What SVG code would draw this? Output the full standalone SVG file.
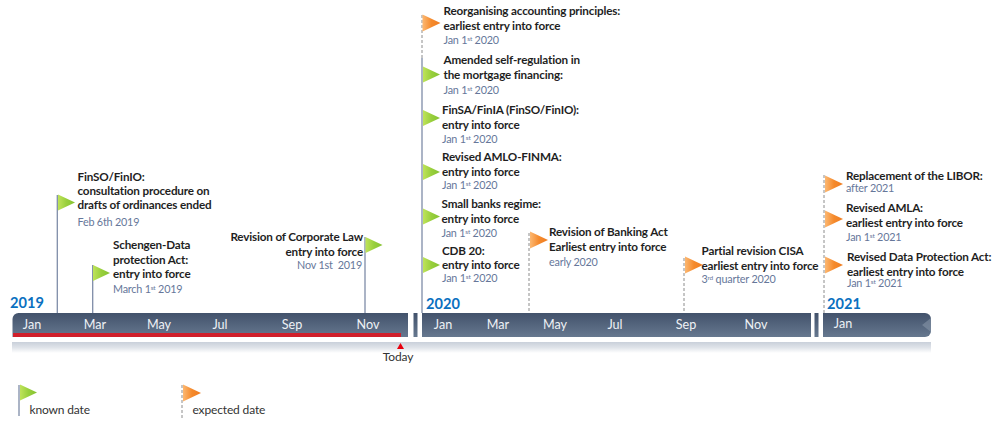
<svg xmlns="http://www.w3.org/2000/svg" width="1000" height="425" viewBox="0 0 1000 425">
<style>
text{font-family:"Lato","Carlito","Open Sans","Liberation Sans",sans-serif}
.t{font-size:11.7px;font-weight:700;fill:#1f1f1f;letter-spacing:-.17px}
.d{font-size:10.8px;fill:#66779a;letter-spacing:-.2px;white-space:pre}
.m{font-size:12.6px;fill:#eef1f5}
.y{font-size:14.6px;font-weight:700;fill:#0a70c0}
.l{font-size:12px;fill:#333;letter-spacing:-.15px}
.p{stroke:#7f8da8;stroke-width:1.3;fill:none}
.q{stroke:#8c8c8c;stroke-width:1;stroke-dasharray:3 2;fill:none}
.b{fill:url(#bar)}
</style>
<defs>
<linearGradient id="bar" x1="0" y1="0" x2="0" y2="1"><stop offset="0" stop-color="#42526b"/><stop offset="1" stop-color="#66788f"/></linearGradient>
<linearGradient id="ref" x1="0" y1="0" x2="0" y2="1"><stop offset="0" stop-color="#c9d0da"/><stop offset=".5" stop-color="#dfe3e9"/><stop offset="1" stop-color="#ffffff"/></linearGradient>
<linearGradient id="gf" x1="0" y1="0" x2="1" y2="0"><stop offset="0" stop-color="#bfe35a"/><stop offset=".5" stop-color="#98cf3c"/><stop offset="1" stop-color="#86c232"/></linearGradient>
<linearGradient id="of" x1="0" y1="0" x2="1" y2="0"><stop offset="0" stop-color="#fcb872"/><stop offset=".5" stop-color="#f58a2c"/><stop offset="1" stop-color="#ef7d22"/></linearGradient>
<polygon id="g" points="0,-8 17,0 0,8" fill="url(#gf)"/>
<polygon id="o" points="0,-8.500 18,0 0,8.500" fill="url(#of)"/>
</defs>
<g id="timeline">
<rect x="12" y="342" width="919" height="11" fill="url(#ref)"/>
<path class="b" d="M12.500 319a6 6 0 0 1 6-6H408V337H12.500Z"/>
<rect class="b" x="413.500" y="313" width="4" height="24"/>
<rect class="b" x="422" y="313" width="389" height="24"/>
<rect class="b" x="814.500" y="313" width="4" height="24"/>
<path class="b" d="M823 313H925a6 6 0 0 1 6 6V331a6 6 0 0 1-6 6H823Z"/>
<path d="M931 318V332L922 325Z" fill="#8b99ab" opacity=".55"/>
<rect x="13" y="333" width="388" height="4" fill="#d01f2b"/>
<polygon points="400.500,343 397,349 404,349" fill="#e8000e"/>
</g>
<g id="months">
<text class="m" x="32" y="329" text-anchor="middle">Jan</text><text class="m" x="95" y="329" text-anchor="middle">Mar</text><text class="m" x="159" y="329" text-anchor="middle">May</text><text class="m" x="220" y="329" text-anchor="middle">Jul</text><text class="m" x="292" y="329" text-anchor="middle">Sep</text><text class="m" x="368" y="329" text-anchor="middle">Nov</text>
<text class="m" x="443" y="329" text-anchor="middle">Jan</text><text class="m" x="498" y="329" text-anchor="middle">Mar</text><text class="m" x="555" y="329" text-anchor="middle">May</text><text class="m" x="615" y="329" text-anchor="middle">Jul</text><text class="m" x="686" y="329" text-anchor="middle">Sep</text><text class="m" x="756" y="329" text-anchor="middle">Nov</text>
<text class="m" x="843" y="328" text-anchor="middle">Jan</text>
</g>
<g id="years">
<text class="y" x="10" y="308">2019</text><text class="y" x="426" y="309">2020</text><text class="y" x="827" y="309">2021</text>
</g>
<text id="today" class="l" x="398" y="361" text-anchor="middle">Today</text>
<g id="connectors">
<path class="p" d="M57.300 195V313M92.700 265V313M365 237V313M422 58V313M19 385V416"/>
<path class="q" d="M422 15V58M529 233V313M684 258V313M824 175V313M182 385V420"/>
</g>
<g id="n1"><use href="#g" x="58" y="202.500"/><text class="t" x="77.500" y="181">FinSO/FinIO:</text><text class="t" x="77.500" y="195">consultation procedure on</text><text class="t" x="77.500" y="209">drafts of ordinances ended</text><text class="d" x="77.500" y="226">Feb 6th 2019</text></g>
<g id="n2"><use href="#g" x="93" y="273"/><text class="t" x="113" y="249">Schengen-Data</text><text class="t" x="113" y="264">protection Act:</text><text class="t" x="113" y="278">entry into force</text><text class="d" x="113" y="293">March 1<tspan font-size="6.500" dy="-3.500">st</tspan><tspan dy="3.500"> 2019</tspan></text></g>
<g id="n3"><use href="#g" x="365.500" y="245"/><text class="t" x="363" y="241" text-anchor="end">Revision of Corporate Law</text><text class="t" x="363" y="256" text-anchor="end">entry into force</text><text class="d" x="362" y="269" text-anchor="end">Nov 1st  2019</text></g>
<g id="n4"><use href="#o" x="422.500" y="23"/><text class="t" x="443.500" y="15">Reorganising accounting principles:</text><text class="t" x="443.500" y="30">earliest entry into force</text><text class="d" x="443.500" y="44">Jan 1<tspan font-size="6.500" dy="-3.500">st</tspan><tspan dy="3.500"> 2020</tspan></text></g>
<g id="n5"><use href="#g" x="423" y="74.500"/><text class="t" x="443.500" y="64">Amended self-regulation in</text><text class="t" x="443.500" y="79">the mortgage financing:</text><text class="d" x="443.500" y="94">Jan 1<tspan font-size="6.500" dy="-3.500">st</tspan><tspan dy="3.500"> 2020</tspan></text></g>
<g id="n6"><use href="#g" x="423" y="118"/><text class="t" x="442" y="114">FinSA/FinIA (FinSO/FinIO):</text><text class="t" x="442" y="129">entry into force</text><text class="d" x="442" y="143">Jan 1<tspan font-size="6.500" dy="-3.500">st</tspan><tspan dy="3.500"> 2020</tspan></text></g>
<g id="n7"><use href="#g" x="423" y="172"/><text class="t" x="442" y="161">Revised AMLO-FINMA:</text><text class="t" x="442" y="176">entry into force</text><text class="d" x="442" y="189">Jan 1<tspan font-size="6.500" dy="-3.500">st</tspan><tspan dy="3.500"> 2020</tspan></text></g>
<g id="n8"><use href="#g" x="423" y="216.500"/><text class="t" x="441.500" y="208">Small banks regime:</text><text class="t" x="441.500" y="223">entry into force</text><text class="d" x="441.500" y="237">Jan 1<tspan font-size="6.500" dy="-3.500">st</tspan><tspan dy="3.500"> 2020</tspan></text></g>
<g id="n9"><use href="#g" x="423" y="265"/><text class="t" x="442" y="255">CDB 20:</text><text class="t" x="442" y="269">entry into force</text><text class="d" x="442" y="282">Jan 1<tspan font-size="6.500" dy="-3.500">st</tspan><tspan dy="3.500"> 2020</tspan></text></g>
<g id="n10"><use href="#o" x="530" y="240"/><text class="t" x="549" y="236">Revision of Banking Act</text><text class="t" x="549" y="251">Earliest entry into force</text><text class="d" x="549" y="266">early 2020</text></g>
<g id="n11"><use href="#o" x="685" y="265"/><text class="t" x="701.500" y="255">Partial revision CISA</text><text class="t" x="701.500" y="270">earliest entry into force</text><text class="d" x="701.500" y="283">3<tspan font-size="6.500" dy="-3.500">rd</tspan><tspan dy="3.500"> quarter 2020</tspan></text></g>
<g id="n12"><use href="#o" x="825" y="184"/><text class="t" x="846" y="180">Replacement of the LIBOR:</text><text class="d" x="846" y="192">after 2021</text></g>
<g id="n13"><use href="#o" x="825" y="219"/><text class="t" x="846" y="212">Revised AMLA:</text><text class="t" x="846" y="227">earliest entry into force</text><text class="d" x="846" y="241">Jan 1<tspan font-size="6.500" dy="-3.500">st</tspan><tspan dy="3.500"> 2021</tspan></text></g>
<g id="n14"><use href="#o" x="825" y="265"/><text class="t" x="847" y="261">Revised Data Protection Act:</text><text class="t" x="847" y="276">earliest entry into force</text><text class="d" x="847" y="287">Jan 1<tspan font-size="6.500" dy="-3.500">st</tspan><tspan dy="3.500"> 2021</tspan></text></g>
<g id="legend-known"><use href="#g" x="20" y="392.500"/><text class="l" x="29.500" y="414">known date</text></g>
<g id="legend-expected"><use href="#o" x="183" y="393"/><text class="l" x="192.500" y="414">expected date</text></g>
</svg>
